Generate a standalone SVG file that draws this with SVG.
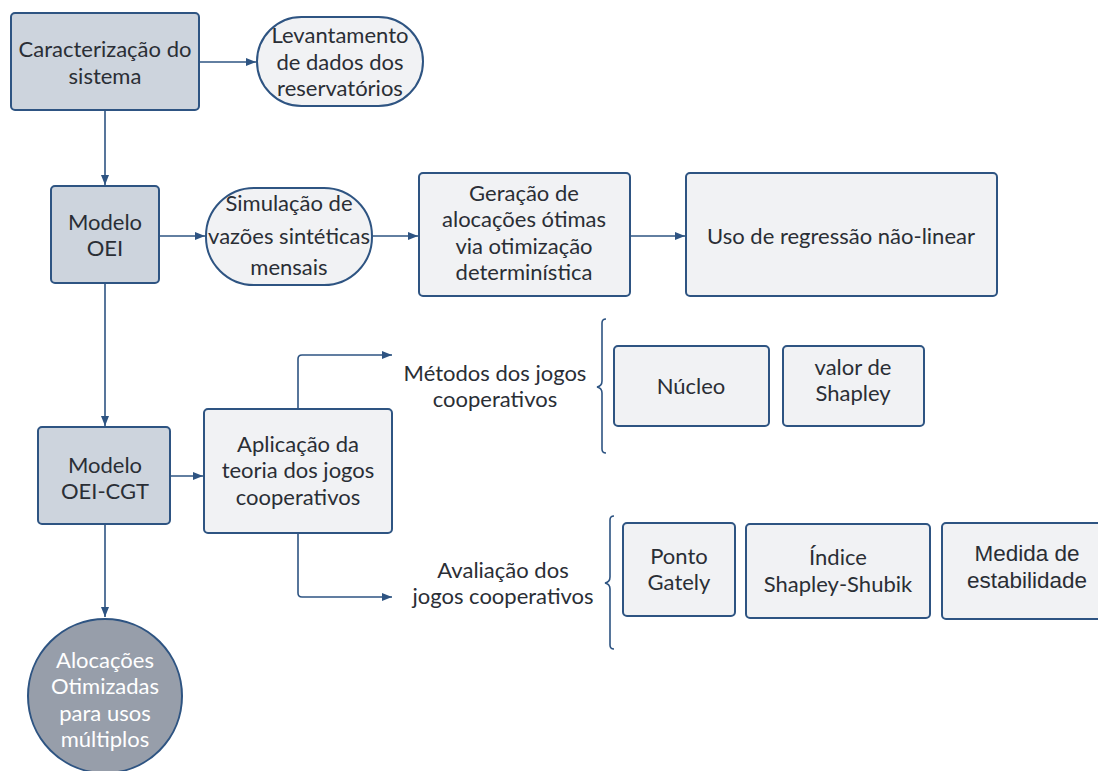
<svg xmlns="http://www.w3.org/2000/svg" width="1098" height="771" viewBox="0 0 1098 771">
<defs>
<style>
.dk{fill:#cdd4dd;stroke:#2e5482;stroke-width:2}
.lt{fill:#f1f2f4;stroke:#2e5482;stroke-width:2}
.cir{fill:#979eaa;stroke:#2e5482;stroke-width:2}
.t{font-family:Lato,"Open Sans",sans-serif;font-size:22px;fill:#2a2e35;text-anchor:middle}
.ta{font-family:"Liberation Sans",Arial,sans-serif;font-size:22.5px;fill:#2a2e35;text-anchor:middle}
.tw{font-family:Lato,"Open Sans",sans-serif;font-size:22px;fill:#ffffff;text-anchor:middle}
.c{fill:none;stroke:#2e5482;stroke-width:1.6}
.br{fill:none;stroke:#2e5482;stroke-width:1.6}
</style>
<marker id="ah" viewBox="0 0 10 10" refX="10" refY="5" markerWidth="10" markerHeight="10" markerUnits="userSpaceOnUse" orient="auto">
<path d="M0,1 L10,5 L0,9 z" fill="#2e5482"/>
</marker>
</defs>
<rect width="1098" height="771" fill="#ffffff"/>
<g id="connectors">
<path class="c" d="M199,62 H256" marker-end="url(#ah)"/>
<path class="c" d="M105,110 V185" marker-end="url(#ah)"/>
<path class="c" d="M159,236 H205" marker-end="url(#ah)"/>
<path class="c" d="M372,236 H418" marker-end="url(#ah)"/>
<path class="c" d="M630,236 H685" marker-end="url(#ah)"/>
<path class="c" d="M105,283 V426" marker-end="url(#ah)"/>
<path class="c" d="M170,476 H203" marker-end="url(#ah)"/>
<path class="c" d="M105,524 V617" marker-end="url(#ah)"/>
<path class="c" d="M298,408 V359 Q298,355 302,355 H392" marker-end="url(#ah)"/>
<path class="c" d="M298,533 V593 Q298,597 302,597 H392" marker-end="url(#ah)"/>
<path class="br" d="M606,319 Q602,319 602,323 V381 Q602,386 597,387 Q602,388 602,393 V449 Q602,453 606,453"/>
<path class="br" d="M614,516 Q610,516 610,520 V577 Q610,582 605,583 Q610,584 610,589 V645 Q610,649 614,649"/>
</g>
<g id="n-caracterizacao">
<rect class="dk" x="11" y="13" width="188" height="97" rx="4"/>
<text class="t" x="105" y="57">Caracterização do</text>
<text class="t" x="105" y="84">sistema</text>
</g>
<g id="n-levantamento">
<rect class="lt" x="257" y="17" width="166" height="89" rx="44.5"/>
<text class="t" x="340" y="43">Levantamento</text>
<text class="t" x="340" y="70">de dados dos</text>
<text class="t" x="340" y="96">reservatórios</text>
</g>
<g id="n-oei">
<rect class="dk" x="51" y="186" width="108" height="97" rx="4"/>
<text class="t" x="105" y="230">Modelo</text>
<text class="t" x="105" y="256">OEI</text>
</g>
<g id="n-simulacao">
<rect class="lt" x="206" y="188" width="166" height="97" rx="48"/>
<text class="t" x="289" y="211">Simulação de</text>
<text class="t" x="289" y="244">vazões sintéticas</text>
<text class="t" x="289" y="275">mensais</text>
</g>
<g id="n-geracao">
<rect class="lt" x="419" y="173" width="211" height="123" rx="4"/>
<text class="t" x="524" y="201">Geração de</text>
<text class="t" x="524" y="227">alocações ótimas</text>
<text class="t" x="524" y="254">via otimização</text>
<text class="t" x="524" y="280">determinística</text>
</g>
<g id="n-regressao">
<rect class="lt" x="686" y="173" width="311" height="123" rx="4"/>
<text class="t" x="841" y="244">Uso de regressão não-linear</text>
</g>
<g id="n-oeicgt">
<rect class="dk" x="38" y="427" width="132" height="97" rx="4"/>
<text class="t" x="105" y="473">Modelo</text>
<text class="t" x="105" y="499">OEI-CGT</text>
</g>
<g id="n-aplicacao">
<rect class="lt" x="204" y="409" width="188" height="124" rx="4"/>
<text class="t" x="298" y="452">Aplicação da</text>
<text class="t" x="298" y="478">teoria dos jogos</text>
<text class="t" x="298" y="505">cooperativos</text>
</g>
<g id="n-metodos">
<text class="t" x="495" y="381">Métodos dos jogos</text>
<text class="t" x="495" y="407">cooperativos</text>
</g>
<g id="n-nucleo">
<rect class="lt" x="614" y="346" width="155" height="80" rx="4"/>
<text class="t" x="691" y="394">Núcleo</text>
</g>
<g id="n-shapley">
<rect class="lt" x="783" y="346" width="141" height="80" rx="4"/>
<text class="t" x="853" y="375">valor de</text>
<text class="t" x="853" y="401">Shapley</text>
</g>
<g id="n-avaliacao">
<text class="t" x="503" y="578">Avaliação dos</text>
<text class="t" x="503" y="604">jogos cooperativos</text>
</g>
<g id="n-gately">
<rect class="lt" x="623" y="523" width="112" height="93" rx="4"/>
<text class="t" x="679" y="564">Ponto</text>
<text class="t" x="679" y="590">Gately</text>
</g>
<g id="n-shubik">
<rect class="lt" x="746" y="524" width="184" height="94" rx="4"/>
<text class="t" x="838" y="565">Índice</text>
<text class="t" x="838" y="592">Shapley-Shubik</text>
</g>
<g id="n-estabilidade">
<rect class="lt" x="942" y="523" width="160" height="96" rx="4"/>
<text class="ta" x="1027" y="561">Medida de</text>
<text class="ta" x="1027" y="588">estabilidade</text>
</g>
<g id="n-alocacoes">
<circle class="cir" cx="105" cy="696" r="77"/>
<text class="tw" x="105" y="668">Alocações</text>
<text class="tw" x="105" y="694">Otimizadas</text>
<text class="tw" x="105" y="721">para usos</text>
<text class="tw" x="105" y="747">múltiplos</text>
</g>
</svg>
